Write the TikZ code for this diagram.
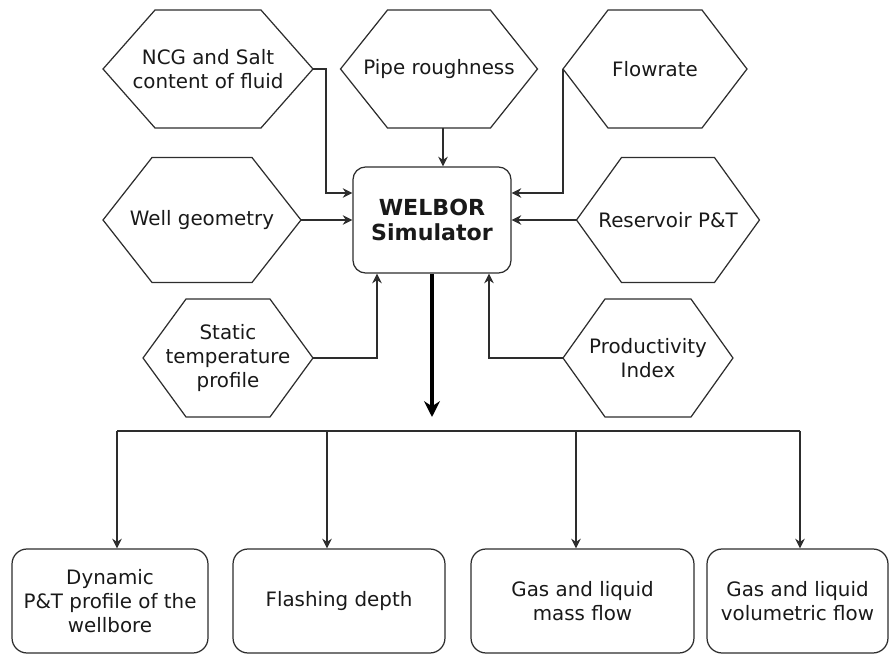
\documentclass[tikz,border=0pt]{standalone}
\usepackage{fontspec}
\setmainfont{DejaVu Sans}
\usetikzlibrary{arrows.meta,positioning,calc}
\definecolor{edge}{RGB}{45,45,45}
\definecolor{ink}{RGB}{25,25,25}
\tikzset{
  >={Stealth[length=5.5pt,width=5.5pt]},
  hexa/.style={rectangle,outer sep=0pt,minimum width=#1,minimum height=2.36cm,inner sep=1pt,
    align=center,text=ink,font=\fontsize{11.3}{13.6}\selectfont},
  hexa/.default=3.6cm,
  tall/.style={minimum height=2.5cm},
  box/.style={draw=edge,line width=0.7pt,rounded corners=0.3cm,minimum width=#1,minimum height=2.08cm,
    align=center,text=ink,font=\fontsize{11.3}{13.6}\selectfont},
  box/.default=4cm,
  rim/.style={draw=edge,line width=0.7pt,line join=miter},
  flow/.style={->,draw=edge,line width=0.7pt},
  big flow/.style={-{Stealth[length=9pt,width=9pt]},draw=black,line width=2.2pt},
}

\begin{document}
\begin{tikzpicture}[x=0.02cm,y=0.02cm]
  \useasboundingbox (0,0) rectangle (894,-655);
  % simulator and its inputs
  \node[draw=edge,line width=0.7pt,rounded corners=0.25cm,minimum width=3.16cm,minimum height=2.12cm,
    align=center,text=ink,font=\fontsize{12.6}{14.2}\selectfont\bfseries] (sim) at (432,-220) {WELBOR\\Simulator};
  \node[hexa=4.2cm] (ncg) at (208,-69) {NCG and Salt\\content of fluid};
  \node[hexa=3.94cm] (pipe) at (439,-69) {Pipe roughness};
  \node[hexa=3.68cm] (rate) at (655,-69) {Flowrate};
  \node[hexa=3.96cm,tall] (geom) at (202,-220) {Well geometry};
  \node[hexa=3.66cm,tall] (res) at (668,-220) {Reservoir P\&T};
  \node[hexa=3.4cm] (temp) at (228,-358) {Static\\temperature\\profile};
  \node[hexa=3.4cm] (pi) at (648,-358) {Productivity\\Index};

  \foreach \n/\d in {ncg/52,pipe/47,rate/45,geom/49,res/45,temp/43,pi/42}
    \draw[rim] (\n.west) -- ($(\n.north west)+(\d,0)$) -- ($(\n.north east)+(-\d,0)$) -- (\n.east)
      -- ($(\n.south east)+(-\d,0)$) -- ($(\n.south west)+(\d,0)$) -- cycle;

  \draw[flow] (ncg.east) -- ++(13,0) |- ($(sim.west)+(0,27)$);
  \draw[flow] ($(pipe.south)+(4,0)$) -- ($(pipe.south |- sim.north)+(4,0)$);
  \draw[flow] (rate.west) |- ($(sim.east)+(0,27)$);
  \draw[flow] (geom.east) -- (sim.west);
  \draw[flow] (res.west) -- (sim.east);
  \draw[flow] (temp.east) -| ($(sim.south)+(-55,0)$);
  \draw[flow] (pi.west) -| ($(sim.south)+(57,0)$);

  % outputs
  \coordinate (hub) at (432,-417);
  \coordinate (busL) at (117,-431);
  \coordinate (busR) at (800,-431);
  \coordinate (b2) at (327,-431);
  \coordinate (b3) at (576,-431);
  \draw[big flow] (sim.south) -- (hub);
  \draw[edge,line width=1.7pt] (busL) -- (busR);

  \node[box=3.92cm] (out1) at (110,-601) {Dynamic\\P\&T profile of the\\wellbore};
  \node[box=4.24cm] (out2) at (339,-601) {Flashing depth};
  \node[box=4.46cm] (out3) at (582.5,-601) {Gas and liquid\\mass flow};
  \node[box=3.62cm] (out4) at (797.5,-601) {Gas and liquid\\volumetric flow};

  \draw[flow] (busL) -- (busL |- out1.north);
  \draw[flow] (b2) -- (b2 |- out2.north);
  \draw[flow] (b3) -- (b3 |- out3.north);
  \draw[flow] (busR) -- (busR |- out4.north);
\end{tikzpicture}
\end{document}
